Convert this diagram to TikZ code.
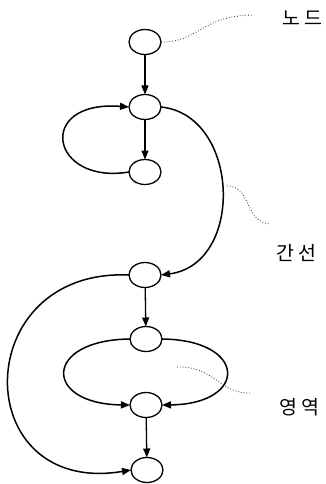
\documentclass[tikz,border=0pt]{standalone}
\usepackage{fontspec}
\newfontfamily\krfont{Noto Sans CJK KR}
\usetikzlibrary{shapes.geometric,arrows.meta}
\tikzset{
  vtx/.style={draw, ellipse, line width=1.3pt, minimum width=32pt, minimum height=25pt, inner sep=0pt, outer sep=0pt},
  edge/.style={line width=1.3pt, -{Triangle[length=9pt,width=7pt]}},
  curv/.style={line width=1.5pt, -{Triangle[length=9pt,width=7pt]}},
  lead/.style={line width=0.8pt, dotted, black!85},
  lbl/.style={font=\krfont\fontsize{19.5pt}{22pt}\selectfont, inner sep=0pt}
}
\begin{document}
\begin{tikzpicture}[x=1pt,y=-1pt]
\useasboundingbox (0,0) rectangle (326,484);
\node[vtx] (n1) at (145,42) {};
\node[vtx] (n2) at (145,107) {};
\node[vtx] (n3) at (145,172) {};
\node[vtx] (n4) at (145,275) {};
\node[vtx] (n5) at (146,339) {};
\node[vtx] (n6) at (146,405) {};
\node[vtx] (n7) at (147,470) {};

\draw[edge] (n1) -- (n2);
\draw[edge] (n2) -- (n3);
\draw[edge] (n4) -- (n5);
\draw[edge] (n6) -- (n7);

\draw[curv] (n3.west) .. controls (50,185) and (35,100) .. (n2.west);
\draw[curv] (n2.east) .. controls (240,115) and (245,264) .. (n4.east);
\draw[curv] (n4.west) .. controls (-32,268) and (-32,497) .. (n7.west);
\draw[curv] (n5.west) .. controls (43,340) and (43,404) .. (n6.west);
\draw[curv] (n5.east) .. controls (248,340) and (248,404) .. (n6.east);

\node[lbl] (t1) at (302,18) {노\hspace{4pt}드};
\node[lbl] (t2) at (296,253) {간\hspace{4pt}선};
\node[lbl] (t3) at (299,407) {영\hspace{4pt}역};

\coordinate (e1) at (253,15);
\coordinate (s2) at (227,186);
\coordinate (e2) at (270,224);
\coordinate (s3) at (177,367);
\coordinate (e3) at (252,393);
\draw[lead] (n1.east) .. controls (200,42) and (200,16) .. (e1);
\draw[lead] (s2) .. controls (252,186) and (244,222) .. (e2);
\draw[lead] (s3) .. controls (215,366) and (220,395) .. (e3);
\end{tikzpicture}
\end{document}
